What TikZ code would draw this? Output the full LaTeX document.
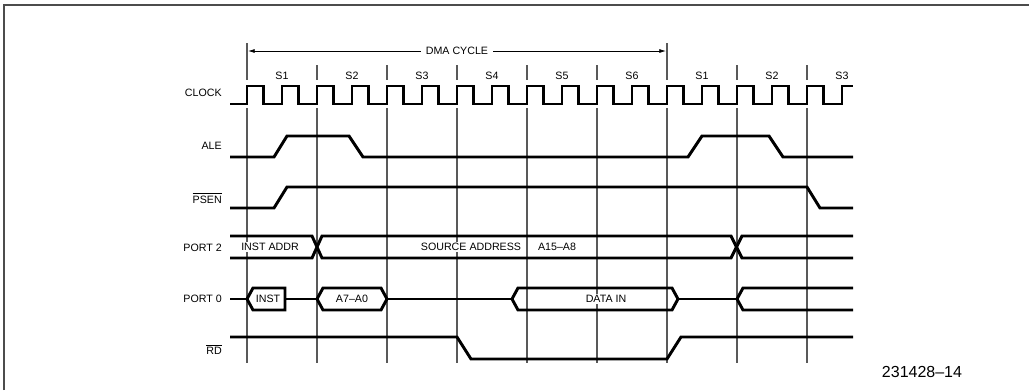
\documentclass[tikz,border=0pt]{standalone}
\usepackage{fontspec}
\setmainfont{Liberation Sans}
\usetikzlibrary{arrows.meta}

\begin{document}
\begin{tikzpicture}[x=0.75pt,y=0.75pt,yscale=-1,xscale=1,
    sig/.style={line width=2.2pt},
    gridline/.style={line width=0.8pt, black!65},
    lbl/.style={inner sep=0.75pt, font=\fontsize{8}{9}\selectfont},
    buslbl/.style={lbl, fill=white, inner sep=1pt}]
    \useasboundingbox (0,0) rectangle (1029,390);

    %Shape: Frame
    \draw [line width=1.5pt, black!70] (4,390) -- (4,5) -- (1029,5) ;

    %Straight Lines: state boundaries
    \foreach \x in {247,317,...,807} { \draw [gridline] (\x,108) -- (\x,363) ; }
    \foreach \x in {317,387,457,527,597,737,807} { \draw [gridline] (\x,65) -- (\x,80) ; }
    \draw [gridline] (247,43) -- (247,80) ;
    \draw [gridline] (667,43) -- (667,80) ;

    %Straight Lines: DMA cycle
    \draw [line width=0.6pt, {Latex[length=5pt,width=3pt]}-{Latex[length=5pt,width=3pt]}] (248,51) -- (666,51) ;
    \draw (457,51) node [lbl, fill=white, inner xsep=3.5pt] (dmalbl) {DMA CYCLE};

    % Text Node: states
    \foreach \x/\s in {282/S1,352/S2,422/S3,492/S4,562/S5,632/S6,702/S1,772/S2,842/S3}
      { \draw (\x,76) node [lbl] (st\x) {\s}; }

    % Text Node: signal names
    \draw (223,93) node [lbl, anchor=east] (clocklbl) {CLOCK};
    \draw (223,146) node [lbl, anchor=east] (alelbl) {ALE};
    \draw (223,198) node [lbl, anchor=east] (psenlbl) {$\overline{\hbox{PSEN}}$};
    \draw (223,248) node [lbl, anchor=east] (porttwolbl) {PORT 2};
    \draw (223,299) node [lbl, anchor=east] (portzerolbl) {PORT 0};
    \draw (223,349) node [lbl, anchor=east] (rdlbl) {$\overline{\hbox{RD}}$};

    %Shape: CLOCK
    \draw [sig] (230,104) -- (247,104) \foreach \k in {1,...,17} { -- ++(0,-18) -- ++(16.5,0) -- ++(0,18) -- ++(18.5,0) } -- ++(0,-18) -- ++(11,0) ;
    %Shape: ALE
    \draw [sig] (230,157) -- (274,157) -- (287,136) -- (349,136) -- (363,157) -- (688,157) -- (702,136) -- (769,136) -- (783,157) -- (853,157) ;
    %Shape: PSEN
    \draw [sig] (230,208) -- (274,208) -- (287,187) -- (807,187) -- (820,208) -- (853,208) ;
    %Shape: PORT 2
    \draw [sig] (230,236) -- (312,236) -- (322,258) -- (731,258) -- (742,236) -- (853,236) ;
    \draw [sig] (230,258) -- (312,258) -- (322,236) -- (731,236) -- (742,258) -- (853,258) ;
    %Shape: PORT 0
    \draw [sig] (230,299) -- (247,299) ;
    \draw [sig] (247,299) -- (253,288) -- (285,288) -- (285,310) -- (253,310) -- cycle ;
    \draw [sig] (285,299) -- (317,299) ;
    \draw [sig] (317,299) -- (323,288) -- (381,288) -- (387,299) -- (381,310) -- (323,310) -- cycle ;
    \draw [sig] (387,299) -- (512,299) ;
    \draw [sig] (512,299) -- (518,288) -- (672,288) -- (678,299) -- (672,310) -- (518,310) -- cycle ;
    \draw [sig] (678,299) -- (737,299) ;
    \draw [sig] (853,288) -- (743,288) -- (737,299) -- (743,310) -- (853,310) ;
    %Shape: RD
    \draw [sig] (230,337) -- (457,337) -- (471,359) -- (667,359) -- (681,337) -- (853,337) ;

    % Text Node: bus values
    \draw (270,247) node [buslbl] (instaddr) {INST ADDR};
    \draw (471,247) node [buslbl] (srcaddr) {SOURCE ADDRESS};
    \draw (557,247) node [buslbl] (srcbits) {A15--A8};
    \draw (268,299) node [buslbl] (inst) {INST};
    \draw (352,299) node [buslbl] (loaddr) {A7--A0};
    \draw (606,299) node [buslbl] (datain) {DATA IN};

    % Text Node
    \draw (922,372) node [inner sep=0.75pt, font=\fontsize{12}{14}\selectfont] (figno) {231428--14};
\end{tikzpicture}
\end{document}
